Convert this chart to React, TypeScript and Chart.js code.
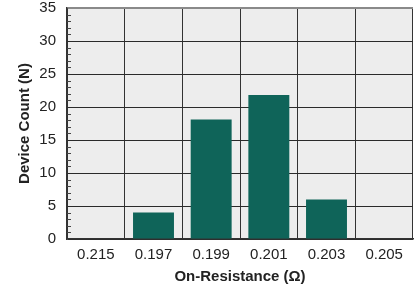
import React, { useEffect, useRef } from "react";
import { Chart, registerables } from "chart.js";

Chart.register(...registerables);

const categories = ["0.215", "0.197", "0.199", "0.201", "0.203", "0.205"];
const deviceCounts = [0, 4, 18.1, 21.8, 6, 0];
const yMin = 0;
const yMax = 35;
const yStep = 5;
const minorStep = 1;

const FONT = "'Liberation Sans', Arial, Helvetica, sans-serif";

const plotBackground = {
  id: "plotBackground",
  beforeDraw(chart: any) {
    const { ctx, chartArea } = chart;
    ctx.save();
    ctx.fillStyle = "#ededed";
    ctx.fillRect(chartArea.left, chartArea.top, chartArea.right - chartArea.left, chartArea.bottom - chartArea.top);
    ctx.restore();
  },
};

const minorTicks = {
  id: "minorTicks",
  afterDraw(chart: any) {
    const { ctx, chartArea } = chart;
    const y = chart.scales.y;
    ctx.save();
    ctx.strokeStyle = "#444";
    ctx.lineWidth = 1;
    for (let v = yMin; v <= yMax; v += minorStep) {
      if (v % yStep === 0) continue;
      const py = Math.round(y.getPixelForValue(v)) + 0.5;
      ctx.beginPath();
      ctx.moveTo(chartArea.left, py);
      ctx.lineTo(chartArea.left + 4, py);
      ctx.stroke();
    }
    ctx.restore();
  },
};

export default function App() {
  const ref = useRef<HTMLCanvasElement | null>(null);

  useEffect(() => {
    if (!ref.current) return;
    const chart = new Chart(ref.current, {
      type: "bar",
      data: {
        labels: categories,
        datasets: [
          {
            data: deviceCounts,
            backgroundColor: "#0f6459",
            borderWidth: 0,
            barPercentage: 0.71,
            categoryPercentage: 1,
          },
        ],
      },
      options: {
        animation: false,
        responsive: true,
        maintainAspectRatio: false,
        events: [],
        layout: { padding: { top: 8, right: 4, left: 0, bottom: 0 } },
        plugins: {
          legend: { display: false },
          tooltip: { enabled: false },
        },
        scales: {
          x: {
            offset: true,
            grid: {
              offset: true,
              color: "#333",
              lineWidth: 1,
              drawTicks: false,
            },
            border: { display: true, color: "#333", width: 1.5 },
            ticks: {
              color: "#222",
              padding: 7,
              font: { family: FONT, size: 15 },
              maxRotation: 0,
            },
            title: {
              display: true,
              text: "On-Resistance (Ω)",
              color: "#222",
              font: { family: FONT, size: 15, weight: "bold" },
              padding: { top: 0, bottom: 2 },
            },
            afterFit(scale: any) {
              scale.height = 49;
              scale.paddingLeft = 0;
              scale.paddingRight = 0;
            },
          },
          y: {
            min: yMin,
            max: yMax,
            ticks: {
              stepSize: yStep,
              color: "#222",
              padding: 11,
              font: { family: FONT, size: 15 },
            },
            grid: {
              color: (c: any) => (c.tick && c.tick.value === yMax ? "#8a8a8a" : "#2a2a2a"),
              lineWidth: (c: any) => (c.tick && c.tick.value === yMax ? 2 : 1),
              drawTicks: false,
            },
            border: { display: true, color: "#333", width: 1.5 },
            title: {
              display: true,
              text: "Device Count (N)",
              color: "#222",
              font: { family: FONT, size: 15, weight: "bold" },
              padding: { top: 16, bottom: 0 },
            },
            afterFit(scale: any) {
              scale.width = 67;
              scale.paddingTop = 0;
              scale.paddingBottom = 0;
            },
          },
        },
      },
      plugins: [plotBackground, minorTicks],
    });
    return () => chart.destroy();
  }, []);

  return (
    <div style={{ position: "fixed", left: 0, top: 0, width: 417, height: 288, background: "#fff" }}>
      <canvas ref={ref} />
    </div>
  );
}
